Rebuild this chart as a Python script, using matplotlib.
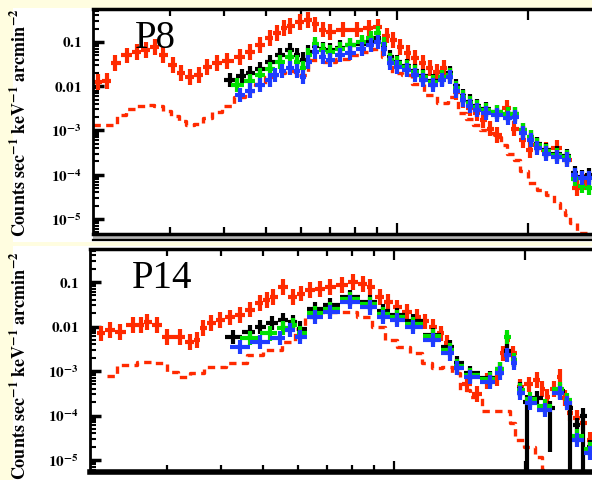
import numpy as np
import matplotlib.pyplot as plt
from matplotlib.patches import Rectangle
from matplotlib.lines import Line2D
from matplotlib.ticker import FixedLocator, FixedFormatter, NullFormatter, LogLocator

plt.rcParams['mathtext.fontset'] = 'stix'
plt.rcParams['font.family'] = ['Liberation Serif', 'DejaVu Serif']

RED = '#ff2a00'
GREEN = '#00e000'
BLUE = '#1f3cff'
BLACK = '#000000'
PAPER = '#fffde0'

# ---------------- P8 ----------------
p8_red_e = [0.205, 0.215, 0.225, 0.239, 0.252, 0.265, 0.277, 0.29, 0.305, 0.318, 0.334, 0.35,
            0.366, 0.385, 0.407, 0.436, 0.46, 0.484, 0.51, 0.53, 0.55, 0.568, 0.598, 0.625,
            0.648, 0.675, 0.701, 0.75, 0.809, 0.86, 0.904, 0.948, 0.98, 1.016, 1.06, 1.10,
            1.148, 1.19, 1.236, 1.28, 1.324, 1.37, 1.418, 1.47, 1.527, 1.58, 1.636, 1.70,
            1.79, 1.86, 1.949, 2.02, 2.099, 2.20, 2.333, 2.46, 2.594, 2.72]
p8_red_y = [0.0125, 0.013, 0.034, 0.05, 0.059, 0.066, 0.077, 0.051, 0.03, 0.02, 0.016, 0.018,
            0.027, 0.034, 0.037, 0.046, 0.059, 0.086, 0.123, 0.16, 0.207, 0.23, 0.28, 0.31,
            0.25, 0.19, 0.168, 0.19, 0.19, 0.207, 0.218, 0.14, 0.11, 0.077, 0.056, 0.044,
            0.034, 0.026, 0.021, 0.026, 0.018, 0.0074, 0.0049, 0.0032, 0.0025, 0.0017, 0.0011, 8e-4,
            0.0032, 0.0011, 6.1e-4, 3.65e-4, 4.7e-4, 3.65e-4, 4e-4, 2.2e-4, 5e-5, 6.8e-5]

p8_black_e = [0.413, 0.44, 0.46, 0.484, 0.51, 0.538, 0.568, 0.59, 0.608, 0.625, 0.648, 0.675,
              0.701, 0.74, 0.78, 0.83, 0.87, 0.904, 0.935, 0.964, 1.0, 1.054, 1.10, 1.148,
              1.21, 1.27, 1.324, 1.37, 1.418, 1.47, 1.527, 1.60, 1.70, 1.80, 1.87, 1.95,
              2.03, 2.10, 2.20, 2.33, 2.46, 2.56, 2.66, 2.76]
p8_black_y = [0.0139, 0.017, 0.02, 0.024, 0.035, 0.051, 0.066, 0.05, 0.04, 0.06, 0.08, 0.07,
              0.065, 0.075, 0.085, 0.09, 0.10, 0.12, 0.085, 0.045, 0.035, 0.028, 0.022, 0.017,
              0.013, 0.015, 0.02, 0.01, 0.006, 0.0045, 0.0035, 0.003, 0.0026, 0.0024, 0.0024, 0.001,
              7e-4, 5e-4, 3.6e-4, 3e-4, 2.6e-4, 1.1e-4, 9e-5, 1e-4]

p8_green_e = [0.429, 0.46, 0.484, 0.51, 0.538, 0.568, 0.59, 0.608, 0.625, 0.648, 0.675, 0.701,
              0.74, 0.78, 0.83, 0.87, 0.904, 0.935, 0.964, 1.0, 1.054, 1.10, 1.148, 1.21,
              1.27, 1.324, 1.37, 1.418, 1.47, 1.527, 1.60, 1.70, 1.80, 1.87, 1.95, 2.03,
              2.10, 2.20, 2.33, 2.46, 2.56, 2.66, 2.76]
p8_green_y = [0.0107, 0.013, 0.018, 0.024, 0.035, 0.046, 0.035, 0.026, 0.05, 0.09, 0.065, 0.059,
              0.07, 0.086, 0.10, 0.12, 0.16, 0.09, 0.039, 0.033, 0.027, 0.021, 0.016, 0.0125,
              0.016, 0.018, 0.009, 0.0057, 0.0042, 0.0034, 0.0029, 0.0026, 0.0023, 0.0023, 0.001, 7e-4,
              4.7e-4, 3.4e-4, 2.8e-4, 2.5e-4, 8e-5, 5.5e-5, 5e-5]

p8_blue_e = [0.436, 0.46, 0.484, 0.51, 0.524, 0.545, 0.568, 0.59, 0.608, 0.625, 0.648, 0.675,
             0.701, 0.74, 0.78, 0.83, 0.87, 0.904, 0.935, 0.964, 1.0, 1.054, 1.10, 1.148,
             1.21, 1.27, 1.324, 1.37, 1.418, 1.47, 1.527, 1.60, 1.70, 1.80, 1.87, 1.95,
             2.03, 2.10, 2.20, 2.33, 2.46, 2.56, 2.66, 2.76]
p8_blue_y = [0.0064, 0.008, 0.0107, 0.014, 0.018, 0.022, 0.026, 0.022, 0.016, 0.035, 0.06, 0.045,
             0.039, 0.05, 0.056, 0.07, 0.085, 0.10, 0.07, 0.033, 0.027, 0.023, 0.018, 0.014,
             0.0107, 0.014, 0.016, 0.008, 0.0049, 0.0036, 0.0029, 0.0025, 0.0022, 0.0019, 0.002, 8.8e-4,
             6.1e-4, 4e-4, 3e-4, 2.5e-4, 2.2e-4, 1e-4, 8.5e-5, 8.5e-5]

p8_model_e = [0.200, 0.210, 0.222, 0.232, 0.245, 0.257, 0.270, 0.283, 0.295, 0.310, 0.322, 0.334,
              0.350, 0.366, 0.385, 0.407, 0.436, 0.460, 0.484, 0.510, 0.538, 0.568, 0.60, 0.65,
              0.70, 0.75, 0.80, 0.85, 0.90, 0.95, 1.0, 1.054, 1.111, 1.191, 1.276, 1.345,
              1.418, 1.47, 1.527, 1.58, 1.636, 1.70, 1.76, 1.82, 1.888, 1.95, 2.054, 2.15,
              2.248, 2.333, 2.40, 2.460, 2.54, 2.635, 2.75]
p8_model_y = [0.00134, 0.00134, 0.00134, 0.0022, 0.0031, 0.0036, 0.0038, 0.0035, 0.0028, 0.0021, 0.0016, 0.0013,
              0.0014, 0.0019, 0.0026, 0.0035, 0.0057, 0.008, 0.0115, 0.016, 0.02, 0.022, 0.018, 0.04,
              0.035, 0.042, 0.05, 0.06, 0.07, 0.045, 0.02, 0.018, 0.011, 0.0064, 0.0042, 0.0057,
              0.0025, 0.0018, 0.0013, 0.0010, 8.8e-4, 7e-4, 4.7e-4, 3e-4, 2.2e-4, 1.2e-4, 6.6e-5, 4.5e-5,
              3.5e-5, 2.3e-5, 1.6e-5, 1.2e-5, 8e-6, 4.9e-6, 4.9e-6]

# ---------------- P14 ----------------
p14_red_e = [0.212, 0.222, 0.2345, 0.251, 0.262, 0.270, 0.285, 0.301, 0.322, 0.340, 0.352, 0.364,
             0.38, 0.398, 0.42, 0.443, 0.467, 0.492, 0.51, 0.527, 0.556, 0.586, 0.61, 0.641,
             0.675, 0.713, 0.76, 0.805, 0.85, 0.881, 0.929, 0.97, 1.016, 1.07, 1.129, 1.18,
             1.229, 1.28, 1.324, 1.396, 1.47, 1.551, 1.64, 1.725, 1.78, 1.819, 1.877, 1.949,
             2.04, 2.132, 2.19, 2.248, 2.33, 2.408, 2.47, 2.539, 2.63, 2.719, 2.823]
p14_red_y = [0.007, 0.0085, 0.0075, 0.0108, 0.011, 0.0126, 0.0108, 0.0058, 0.0058, 0.0045, 0.005, 0.0092,
             0.012, 0.014, 0.016, 0.018, 0.024, 0.034, 0.04, 0.046, 0.077, 0.046, 0.055, 0.066,
             0.07, 0.077, 0.085, 0.1, 0.09, 0.077, 0.046, 0.035, 0.027, 0.021, 0.0163, 0.013,
             0.0098, 0.007, 0.0043, 0.0012, 5e-4, 3e-4, 6e-4, 7e-4, 0.0025, 0.005, 0.0025, 4.4e-4,
             5e-4, 6.3e-4, 4e-4, 2.6e-4, 4e-4, 7.3e-4, 2.5e-4, 1.14e-4, 9e-5, 6.8e-5, 2.8e-5]

p14_black_e = [0.427, 0.467, 0.492, 0.525, 0.556, 0.586, 0.608, 0.658, 0.713, 0.792, 0.881, 0.943,
               1.016, 1.106, 1.229, 1.345, 1.396, 1.495, 1.662, 1.753, 1.819, 1.89, 1.949, 2.02,
               2.13, 2.28, 2.408, 2.54, 2.63, 2.72, 2.823]
p14_black_y = [0.0058, 0.0075, 0.0098, 0.012, 0.014, 0.0126, 0.009, 0.025, 0.03, 0.045, 0.035, 0.022,
               0.018, 0.013, 0.0065, 0.0035, 0.0015, 9e-4, 7e-4, 0.0011, 0.0028, 0.0018, 4e-4, 2e-4,
               2.5e-4, 1.5e-4, 3.5e-4, 1.5e-4, 6e-5, 1e-4, 2e-5]
# downward error factor: large values reach the bottom of the plot
p14_black_dn = [1.45, 1.45, 1.45, 1.45, 1.45, 1.45, 1.45, 1.45, 1.45, 1.45, 1.45, 1.45,
                1.45, 1.45, 1.45, 1.45, 1.45, 1.45, 1.45, 1.45, 1.45, 1.45, 1.45, 100,
                1.45, 10, 1.45, 30, 1.45, 100, 1.45]

p14_green_e = [0.467, 0.519, 0.556, 0.586, 0.608, 0.658, 0.713, 0.792, 0.881, 0.943, 1.016, 1.106,
               1.229, 1.345, 1.396, 1.495, 1.662, 1.753, 1.819, 1.89, 1.949, 2.054, 2.222, 2.408,
               2.499, 2.635, 2.823]
p14_green_y = [0.0055, 0.007, 0.0092, 0.011, 0.007, 0.02, 0.025, 0.042, 0.032, 0.019, 0.016, 0.0115,
               0.006, 0.003, 0.0013, 8e-4, 6.5e-4, 0.0011, 0.0058, 0.0018, 3.8e-4, 2.3e-4, 1.6e-4, 4e-4,
               2.2e-4, 3.5e-5, 1.8e-5]

p14_blue_e = [0.443, 0.492, 0.547, 0.577, 0.608, 0.658, 0.713, 0.792, 0.881, 0.943, 1.016, 1.106,
              1.229, 1.345, 1.396, 1.495, 1.662, 1.753, 1.819, 1.89, 1.949, 2.054, 2.222, 2.408,
              2.499, 2.635, 2.823]
p14_blue_y = [0.0035, 0.0045, 0.0055, 0.0083, 0.0058, 0.0163, 0.021, 0.0355, 0.027, 0.0163, 0.014, 0.0098,
              0.005, 0.0025, 0.00117, 7.3e-4, 5.7e-4, 9e-4, 0.0023, 0.0015, 3.2e-4, 1.9e-4, 1.33e-4, 3.2e-4,
              1.9e-4, 2.8e-5, 1.44e-5]

p14_model_e = [0.219, 0.243, 0.2705, 0.29, 0.31, 0.327, 0.352, 0.378, 0.443, 0.474, 0.527, 0.577,
               0.61, 0.641, 0.713, 0.792, 0.849, 0.929, 0.979, 1.049, 1.129, 1.191, 1.256, 1.324,
               1.396, 1.441, 1.551, 1.636, 1.819, 1.877, 1.918, 2.054, 2.166, 2.223]
p14_model_y = [7.9e-4, 0.00136, 0.00159, 0.0015, 9.5e-4, 7.3e-4, 9e-4, 0.00123, 0.0015, 0.0023, 0.003, 0.0045,
               0.009, 0.0163, 0.0212, 0.0212, 0.0163, 0.0098, 0.005, 0.0035, 0.0025, 0.0015, 0.00117, 0.00123,
               9e-4, 3.7e-4, 2.6e-4, 1.3e-4, 1.3e-4, 6.8e-5, 2.8e-5, 2e-5, 1.2e-5, 6e-6]

ytick_vals = [0.1, 0.01, 1e-3, 1e-4, 1e-5]
ytick_text = [r'$\mathbf{0.1}$', r'$\mathbf{0.01}$', r'$\mathbf{10^{-3}}$',
              r'$\mathbf{10^{-4}}$', r'$\mathbf{10^{-5}}$']
ylabel_text = r'$\mathbf{Counts\ sec^{-1}\ keV^{-1}\ arcmin^{-2}}$'


def bin_halfwidths(e):
    le = np.log10(np.asarray(e, float))
    mid = (le[1:] + le[:-1]) / 2
    lo = np.concatenate([[2 * le[0] - mid[0]], mid])
    hi = np.concatenate([mid, [2 * le[-1] - mid[-1]]])
    e = 10 ** le
    return e - 10 ** lo, 10 ** hi - e


def draw_data(ax, e, y, color, up=1.45, dn=1.45, lw=3.0):
    e = np.asarray(e, float)
    y = np.asarray(y, float)
    dn = np.broadcast_to(np.asarray(dn, float), y.shape)
    xlo, xhi = bin_halfwidths(e)
    ax.errorbar(e, y, xerr=[xlo, xhi], yerr=[y - y / dn, y * up - y],
                fmt='none', ecolor=color, elinewidth=lw, capsize=0)


def draw_model(ax, e, y):
    ax.plot(e, y, drawstyle='steps-mid', color=RED, lw=2.4,
            linestyle=(0, (2.2, 1.6)))


def style_axes(ax, xlim, ylim):
    ax.set_xscale('log')
    ax.set_yscale('log')
    ax.set_xlim(*xlim)
    ax.set_ylim(*ylim)
    ax.xaxis.set_major_locator(FixedLocator([1, 2]))
    ax.xaxis.set_minor_locator(FixedLocator([0.3, 0.4, 0.5, 0.6, 0.7, 0.8, 0.9]))
    ax.xaxis.set_major_formatter(NullFormatter())
    ax.xaxis.set_minor_formatter(NullFormatter())
    ax.yaxis.set_major_locator(FixedLocator(ytick_vals))
    ax.yaxis.set_major_formatter(FixedFormatter(ytick_text))
    ax.yaxis.set_minor_locator(LogLocator(base=10, subs=np.arange(2, 10), numticks=20))
    ax.yaxis.set_minor_formatter(NullFormatter())
    ax.tick_params(which='both', direction='in', top=True, bottom=True,
                   left=True, right=False, labelsize=11, pad=8)
    ax.tick_params(axis='x', which='major', length=8, width=1.6)
    ax.tick_params(axis='x', which='minor', length=5, width=1.6)
    ax.tick_params(axis='y', which='major', length=8, width=2.5)
    ax.tick_params(axis='y', which='minor', length=4.5, width=1.5)
    ax.spines['right'].set_visible(False)
    ax.spines['left'].set_linewidth(2)
    ax.spines['top'].set_linewidth(2.5)
    ax.spines['bottom'].set_linewidth(2.5)


W, H = 592, 480
fig = plt.figure(figsize=(W / 100, H / 100), dpi=100, facecolor=PAPER)

# white paper areas behind each panel
fig.patches.append(Rectangle((13 / W, 1 - 242 / H), 1, (242 - 8) / H,
                             transform=fig.transFigure, facecolor='white', edgecolor='none', zorder=-2))
fig.patches.append(Rectangle((13 / W, 0), 1, (H - 246) / H,
                             transform=fig.transFigure, facecolor='white', edgecolor='none', zorder=-2))

ax1 = fig.add_axes([93 / W, 1 - 234 / H, (W - 93) / W, (234 - 9) / H])
ax2 = fig.add_axes([90 / W, 1 - 472 / H, (W - 90) / W, (472 - 249) / H])
for a in (ax1, ax2):
    a.set_facecolor('none')

style_axes(ax1, (0.2, 2.808), (4.58e-6, 0.556))
style_axes(ax2, (0.2, 2.852), (5.4e-6, 0.552))
ax2.spines['bottom'].set_linewidth(4)

# model goes under the instrument spectra so it only shows where it drops below them
draw_data(ax1, p8_red_e, p8_red_y, RED, up=1.5, dn=1.5)
draw_model(ax1, p8_model_e, p8_model_y)
draw_data(ax1, p8_black_e, p8_black_y, BLACK)
draw_data(ax1, p8_green_e, p8_green_y, GREEN)
draw_data(ax1, p8_blue_e, p8_blue_y, BLUE)

draw_data(ax2, p14_red_e, p14_red_y, RED, up=1.5, dn=1.5)
draw_model(ax2, p14_model_e, p14_model_y)
draw_data(ax2, p14_black_e, p14_black_y, BLACK, dn=p14_black_dn)
draw_data(ax2, p14_green_e, p14_green_y, GREEN)
draw_data(ax2, p14_blue_e, p14_blue_y, BLUE)

# top edge of the residual panel peeking out below P8
fig.patches.append(Rectangle((93 / W, 1 - 240 / H), 1, 5 / H, transform=fig.transFigure,
                             facecolor='#b4b4b4', edgecolor='none', zorder=-1))
fig.lines.append(Line2D([93 / W, 1], [1 - 240 / H, 1 - 240 / H], transform=fig.transFigure,
                        color='black', lw=1.6, zorder=2))

fig.text(135 / W, 1 - 48 / H, 'P8', fontsize=28, va='baseline', ha='left')
fig.text(132 / W, 1 - 288 / H, 'P14', fontsize=28, va='baseline', ha='left')

fig.text(20 / W, 1 - 123 / H, ylabel_text, rotation=90, fontsize=13, ha='center', va='center')
fig.text(20 / W, 1 - 366 / H, ylabel_text, rotation=90, fontsize=13, ha='center', va='center')

fig.savefig('out.png', dpi=100, facecolor=PAPER)
